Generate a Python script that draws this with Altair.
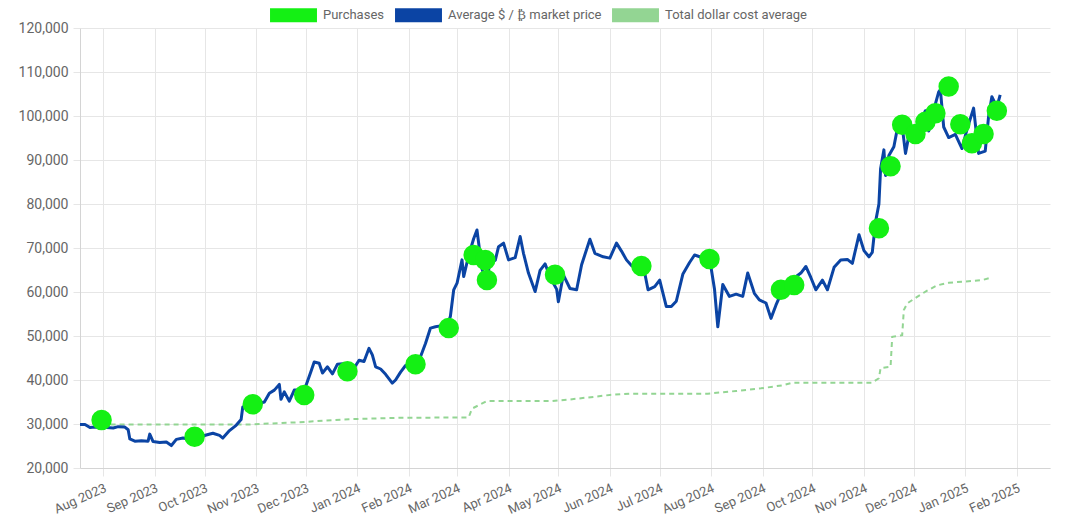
import altair as alt
import pandas as pd

series_names = ["Purchases", "Average $ / ₿ market price", "Total dollar cost average"]
series_colors = ["#14f014", "#0b44a4", "#93d593"]

price_dates = [
    "2023-07-18", "2023-07-21", "2023-07-24", "2023-07-27", "2023-07-31", "2023-08-03", "2023-08-07",
    "2023-08-10", "2023-08-14", "2023-08-16", "2023-08-17", "2023-08-20", "2023-08-24", "2023-08-28",
    "2023-08-29", "2023-08-31", "2023-09-04", "2023-09-08", "2023-09-11", "2023-09-14", "2023-09-18",
    "2023-09-21", "2023-09-25", "2023-09-28", "2023-10-02", "2023-10-06", "2023-10-10", "2023-10-12",
    "2023-10-16", "2023-10-20", "2023-10-23", "2023-10-24", "2023-10-27", "2023-10-31", "2023-11-03",
    "2023-11-06", "2023-11-09", "2023-11-12", "2023-11-15", "2023-11-16", "2023-11-18", "2023-11-21",
    "2023-11-24", "2023-11-28", "2023-12-01", "2023-12-04", "2023-12-06", "2023-12-09", "2023-12-11",
    "2023-12-14", "2023-12-17", "2023-12-20", "2023-12-23", "2023-12-26", "2023-12-29", "2024-01-02",
    "2024-01-05", "2024-01-08", "2024-01-10", "2024-01-12", "2024-01-15", "2024-01-18", "2024-01-22",
    "2024-01-24", "2024-01-27", "2024-01-30", "2024-02-02", "2024-02-05", "2024-02-08", "2024-02-11",
    "2024-02-14", "2024-02-17", "2024-02-20", "2024-02-23", "2024-02-26", "2024-02-28", "2024-03-01",
    "2024-03-04", "2024-03-05", "2024-03-08", "2024-03-11", "2024-03-13", "2024-03-16", "2024-03-19",
    "2024-03-21", "2024-03-24", "2024-03-26", "2024-03-29", "2024-04-01", "2024-04-05", "2024-04-08",
    "2024-04-10", "2024-04-13", "2024-04-17", "2024-04-20", "2024-04-23", "2024-04-26", "2024-04-30",
    "2024-05-01", "2024-05-04", "2024-05-08", "2024-05-12", "2024-05-15", "2024-05-20", "2024-05-23",
    "2024-05-28", "2024-06-01", "2024-06-05", "2024-06-08", "2024-06-11", "2024-06-14", "2024-06-18",
    "2024-06-22", "2024-06-24", "2024-06-28", "2024-07-01", "2024-07-05", "2024-07-08", "2024-07-11",
    "2024-07-15", "2024-07-19", "2024-07-22", "2024-07-26", "2024-07-29", "2024-08-01", "2024-08-03",
    "2024-08-05", "2024-08-08", "2024-08-12", "2024-08-16", "2024-08-20", "2024-08-23", "2024-08-27",
    "2024-08-30", "2024-09-03", "2024-09-06", "2024-09-09", "2024-09-13", "2024-09-17", "2024-09-20",
    "2024-09-24", "2024-09-27", "2024-09-30", "2024-10-03", "2024-10-07", "2024-10-10", "2024-10-14",
    "2024-10-18", "2024-10-22", "2024-10-25", "2024-10-29", "2024-11-01", "2024-11-04", "2024-11-06",
    "2024-11-08", "2024-11-10", "2024-11-11", "2024-11-13", "2024-11-14", "2024-11-16", "2024-11-19",
    "2024-11-22", "2024-11-24", "2024-11-26", "2024-11-29", "2024-12-02", "2024-12-05", "2024-12-08",
    "2024-12-10", "2024-12-13", "2024-12-16", "2024-12-17", "2024-12-19", "2024-12-22", "2024-12-26",
    "2024-12-30", "2025-01-02", "2025-01-06", "2025-01-09", "2025-01-13", "2025-01-15", "2025-01-17",
    "2025-01-20", "2025-01-22",
]
price_values = [
    29900, 29900, 29200, 29300, 29200, 29200, 29100,
    29400, 29300, 28700, 26600, 26100, 26200, 26100,
    27700, 26000, 25800, 25900, 25100, 26500, 26800,
    26600, 26300, 27000, 27500, 27900, 27400, 26800,
    28500, 29700, 31000, 33900, 34200, 34600, 34700,
    35000, 37000, 37700, 39000, 35600, 37300, 35200,
    37700, 37800, 38700, 41900, 44100, 43800, 41600,
    43000, 41400, 43600, 43700, 42500, 42100, 44500,
    44200, 47200, 45700, 43000, 42500, 41300, 39300,
    40000, 41800, 43300, 43100, 42600, 45300, 48300,
    51800, 52100, 52300, 51000, 54500, 60500, 62000,
    67300, 63500, 68300, 72100, 74100, 65300, 61900,
    67900, 67200, 70300, 71100, 67300, 67800, 72600,
    68800, 64300, 60100, 64900, 66400, 63400, 60600,
    57800, 63900, 60800, 60500, 66200, 72000, 68800,
    68000, 67700, 71100, 69300, 67300, 66000, 65000,
    64300, 60500, 61200, 62700, 56700, 56700, 57900,
    64100, 66700, 68400, 67900, 66800, 65400, 60700,
    52100, 61700, 59000, 59500, 59000, 64300, 59700,
    58200, 57500, 54000, 57000, 60500, 60300, 63200,
    64300, 65800, 63300, 60500, 62700, 60500, 65600,
    67300, 67400, 66500, 73000, 69400, 68000, 69000,
    76000, 80000, 88000, 92300, 86500, 91000, 93000,
    98900, 97700, 91500, 97500, 95800, 98800, 101200,
    96600, 101400, 105500, 106000, 97500, 95100, 95800,
    92600, 96900, 101800, 91500, 92000, 99800, 104400,
    102000, 104800,
]

purchase_dates = [
    "2023-07-31", "2023-09-25", "2023-10-30", "2023-11-30", "2023-12-26", "2024-02-05",
    "2024-02-25", "2024-03-11", "2024-03-18", "2024-03-19", "2024-04-29", "2024-06-20",
    "2024-07-31", "2024-09-12", "2024-09-20", "2024-11-10", "2024-11-17", "2024-11-24",
    "2024-12-02", "2024-12-08", "2024-12-14", "2024-12-22", "2024-12-29", "2025-01-05",
    "2025-01-12", "2025-01-20",
]
purchase_values = [
    30900, 27100, 34500, 36600, 42000, 43600,
    51800, 68400, 67300, 62700, 63900, 65900,
    67500, 60500, 61600, 74500, 88600, 98000,
    95900, 98700, 100600, 106700, 98100, 93800,
    95900, 101200,
]

dca_dates = [
    "2023-07-31", "2023-10-28", "2023-11-27", "2023-12-27", "2024-01-26", "2024-03-08",
    "2024-03-10", "2024-03-19", "2024-04-27", "2024-05-06", "2024-05-23", "2024-06-01",
    "2024-06-13", "2024-07-30", "2024-08-16", "2024-08-31", "2024-09-13", "2024-09-19",
    "2024-11-06", "2024-11-10", "2024-11-11", "2024-11-17", "2024-11-18", "2024-11-24",
    "2024-11-25", "2024-11-27", "2024-12-03", "2024-12-09", "2024-12-15", "2024-12-22",
    "2025-01-01", "2025-01-11", "2025-01-17",
]
dca_values = [
    29900, 29900, 30400, 31100, 31400, 31500,
    33500, 35200, 35200, 35500, 36200, 36600,
    36900, 36900, 37500, 38100, 38800, 39400,
    39400, 40400, 42700, 43000, 49800, 50200,
    55900, 57400, 58900, 60300, 61500, 62100,
    62400, 62700, 63300,
]

y_ticks = [20000, 30000, 40000, 50000, 60000, 70000, 80000, 90000, 100000, 110000, 120000]
month_ticks = [
    "2023-08", "2023-09", "2023-10", "2023-11", "2023-12", "2024-01", "2024-02", "2024-03",
    "2024-04", "2024-05", "2024-06", "2024-07", "2024-08", "2024-09", "2024-10", "2024-11",
    "2024-12", "2025-01", "2025-02",
]
x_start = "2023-07-18"
x_end = "2025-02-21"


def to_dt(s):
    parts = [int(p) for p in s.split("-")]
    if len(parts) == 2:
        parts.append(1)
    return alt.DateTime(year=parts[0], month=parts[1], date=parts[2], utc=True)


price_df = pd.DataFrame({"date": price_dates, "value": price_values})
purchase_df = pd.DataFrame({"date": purchase_dates, "value": purchase_values,
                            "series": [series_names[0]] * len(purchase_dates)})
dca_df = pd.DataFrame({"date": dca_dates, "value": dca_values})

FONT = "Roboto"
TEXT = "#666666"
GRID = "#e6e6e6"

x_enc = alt.X(
    "date:T",
    scale=alt.Scale(type="utc", domain=[to_dt(x_start), to_dt(x_end)]),
    axis=alt.Axis(
        values=[to_dt(m) for m in month_ticks],
        labelExpr="utcFormat(datum.value, '%b %Y')",
        labelAngle=336,
        labelAlign="right",
        labelBaseline="middle",
        labelPadding=11,
        labelOffset=2,
        labelFontSize=13,
        labelFont=FONT,
        labelColor=TEXT,
        tickSize=8,
        tickColor=GRID,
        gridColor=GRID,
        domainColor="#d4d4d4",
        labelOverlap=False,
        labelBound=False,
        title=None,
    ),
)
y_enc = alt.Y(
    "value:Q",
    scale=alt.Scale(domain=[20000, 120000], nice=False),
    axis=alt.Axis(
        values=y_ticks,
        labelExpr="format(datum.value, ',.0f')",
        labelFontSize=14,
        labelFont=FONT,
        labelColor=TEXT,
        labelPadding=5,
        tickSize=7,
        tickColor=GRID,
        gridColor=GRID,
        domainColor="#d4d4d4",
        title=None,
    ),
)

dca_line = alt.Chart(dca_df).mark_line(
    strokeWidth=2, strokeDash=[5, 4], color=series_colors[2]
).encode(x=x_enc, y=y_enc)

price_line = alt.Chart(price_df).mark_line(
    strokeWidth=3, color=series_colors[1], strokeJoin="round"
).encode(x=x_enc, y=y_enc)

points = alt.Chart(purchase_df).mark_circle(size=420, opacity=1).encode(
    x=x_enc,
    y=y_enc,
    color=alt.Color(
        "series:N",
        scale=alt.Scale(domain=series_names, range=series_colors),
        legend=alt.Legend(
            orient="none",
            direction="horizontal",
            legendX=206,
            legendY=-20.5,
            title=None,
            symbolType="M-3.13,-0.93L3.13,-0.93L3.13,0.93L-3.13,0.93Z",
            symbolSize=225,
            symbolStrokeWidth=0,
            symbolOpacity=1,
            labelFont=FONT,
            labelFontSize=13,
            labelColor=TEXT,
            labelOffset=22,
            columnPadding=10,
            padding=0,
        ),
    ),
)

chart = (
    alt.layer(dca_line, price_line, points)
    .properties(
        width=970,
        height=440,
        autosize=alt.AutoSizeParams(type="none"),
        padding={"left": 72, "top": 20, "right": 10, "bottom": 48},
        background="white",
    )
    .configure_view(strokeWidth=0)
)

chart.save("out.html", embed_options={"renderer": "svg", "actions": False})
